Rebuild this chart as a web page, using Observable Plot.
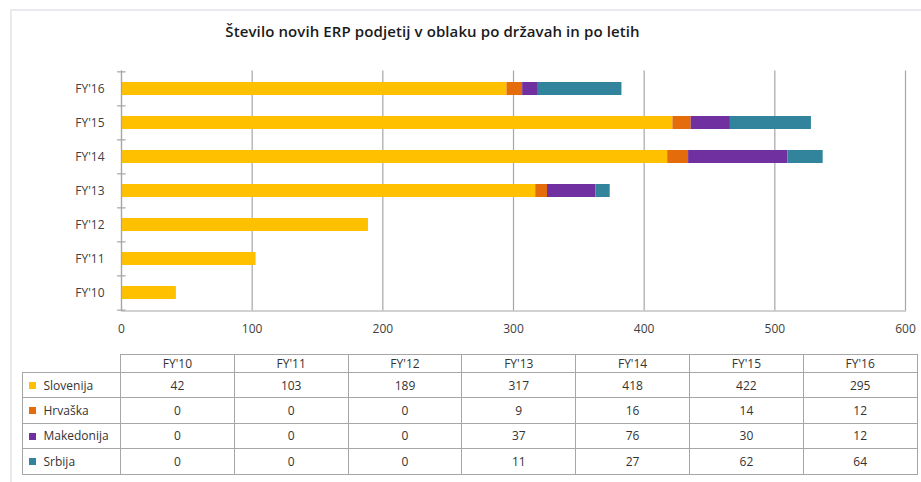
<!DOCTYPE html>
<html><head><meta charset="utf-8">
<script src="https://cdn.jsdelivr.net/npm/d3@7"></script>
<script src="https://cdn.jsdelivr.net/npm/@observablehq/plot@0.6"></script>
<style>
body{margin:0;background:#fff;}
#wrap{position:relative;width:921px;height:482px;overflow:hidden;font-family:"Open Sans",sans-serif;color:#404040;}
#frame{position:absolute;left:10px;top:9px;width:930px;height:490px;border-top:2px solid #e8eaee;border-left:2px solid #e8eaee;}
#title{position:absolute;left:0;width:865px;top:21px;text-align:center;font-size:15px;font-weight:600;color:#1a1a1a;letter-spacing:0.1px;}
#chart{position:absolute;left:0;top:0;}
#tbl{position:absolute;left:21.5px;top:354px;border-collapse:collapse;font-size:12px;table-layout:fixed;width:895px;color:#333;}
#tbl td{border:1.5px solid #a6a6a6;text-align:center;padding:0;white-space:nowrap;}
#tbl td.lab{text-align:left;padding-left:6px;}
#tbl .sw{display:inline-block;width:7px;height:7px;margin-right:8px;vertical-align:middle;position:relative;top:-1px;}
</style></head>
<body>
<div id="wrap">
<div id="frame"></div>
<div id="title">Število novih ERP podjetij v oblaku po državah in po letih</div>
<div id="chart"></div>
<table id="tbl"></table>
</div>
<script>
const years = ["FY'10","FY'11","FY'12","FY'13","FY'14","FY'15","FY'16"];
const countries = ["Slovenija","Hrvaška","Makedonija","Srbija"];
const colors = ["#FFC000","#E46C0A","#7030A0","#31849B"];
const slovenija = [42,103,189,317,418,422,295];
const hrvaska = [0,0,0,9,16,14,12];
const makedonija = [0,0,0,37,76,30,12];
const srbija = [0,0,0,11,27,62,64];
const xTicks = [0,100,200,300,400,500,600];

const series = [slovenija, hrvaska, makedonija, srbija];
const data = [];
countries.forEach((c, ci) => years.forEach((y, yi) => data.push({country: c, year: y, value: series[ci][yi]})));

const H = 345, top0 = 70.5, bot0 = 310.5;
const step = (bot0 - top0) / years.length;
const axisColor = "#a6a6a6";

const chart = Plot.plot({
  width: 921, height: H,
  marginLeft: 121, marginRight: 16, marginTop: top0, marginBottom: H - bot0,
  style: {fontFamily: "'Open Sans', sans-serif", fontSize: "12px", color: "#404040", background: "transparent"},
  x: {domain: [0, 600], label: null},
  y: {domain: years.slice().reverse(), paddingInner: 0.61, paddingOuter: 0.305, label: null},
  color: {domain: countries, range: colors},
  marks: [
    Plot.gridX(xTicks, {stroke: axisColor, strokeOpacity: 1, strokeWidth: 1.2}),
    Plot.barX(data, Plot.stackX({x: "value", y: "year", fill: "country", order: countries})),
    Plot.ruleX([0], {stroke: axisColor, strokeWidth: 1.2}),
    Plot.frame({anchor: "bottom", stroke: axisColor, strokeWidth: 1.2}),
    Plot.ruleY(years, {y: d => d, x1: -3, x2: 3.5, dy: -step / 2, stroke: axisColor, strokeWidth: 1.2}),
    Plot.ruleY([years[0]], {y: d => d, x1: -3, x2: 3.5, dy: step / 2, stroke: axisColor, strokeWidth: 1.2}),
    Plot.axisX(xTicks, {tickSize: 0, tickPadding: 13, fontSize: 12, label: null}),
    Plot.axisY({tickSize: 0, tickPadding: 17, fontSize: 12, label: null})
  ]
});
document.getElementById("chart").appendChild(chart);

// table
const tbl = document.getElementById("tbl");
const colgroup = document.createElement("colgroup");
const c0 = document.createElement("col"); c0.style.width = "98.5px"; colgroup.appendChild(c0);
years.forEach(() => { const c = document.createElement("col"); c.style.width = "113.8px"; colgroup.appendChild(c); });
tbl.appendChild(colgroup);
const hr = document.createElement("tr"); hr.style.height = "17.5px";
const blank = document.createElement("td"); blank.style.borderTop = "none"; blank.style.borderLeft = "none"; hr.appendChild(blank);
years.forEach(y => { const td = document.createElement("td"); td.textContent = y; td.style.fontSize = "12px"; hr.appendChild(td); });
tbl.appendChild(hr);
countries.forEach((c, ci) => {
  const tr = document.createElement("tr"); tr.style.height = "25.4px";
  const lab = document.createElement("td"); lab.className = "lab";
  const sw = document.createElement("span"); sw.className = "sw"; sw.style.background = colors[ci];
  lab.appendChild(sw); lab.appendChild(document.createTextNode(c));
  tr.appendChild(lab);
  series[ci].forEach(v => { const td = document.createElement("td"); td.textContent = v; tr.appendChild(td); });
  tbl.appendChild(tr);
});
</script>
</body></html>
